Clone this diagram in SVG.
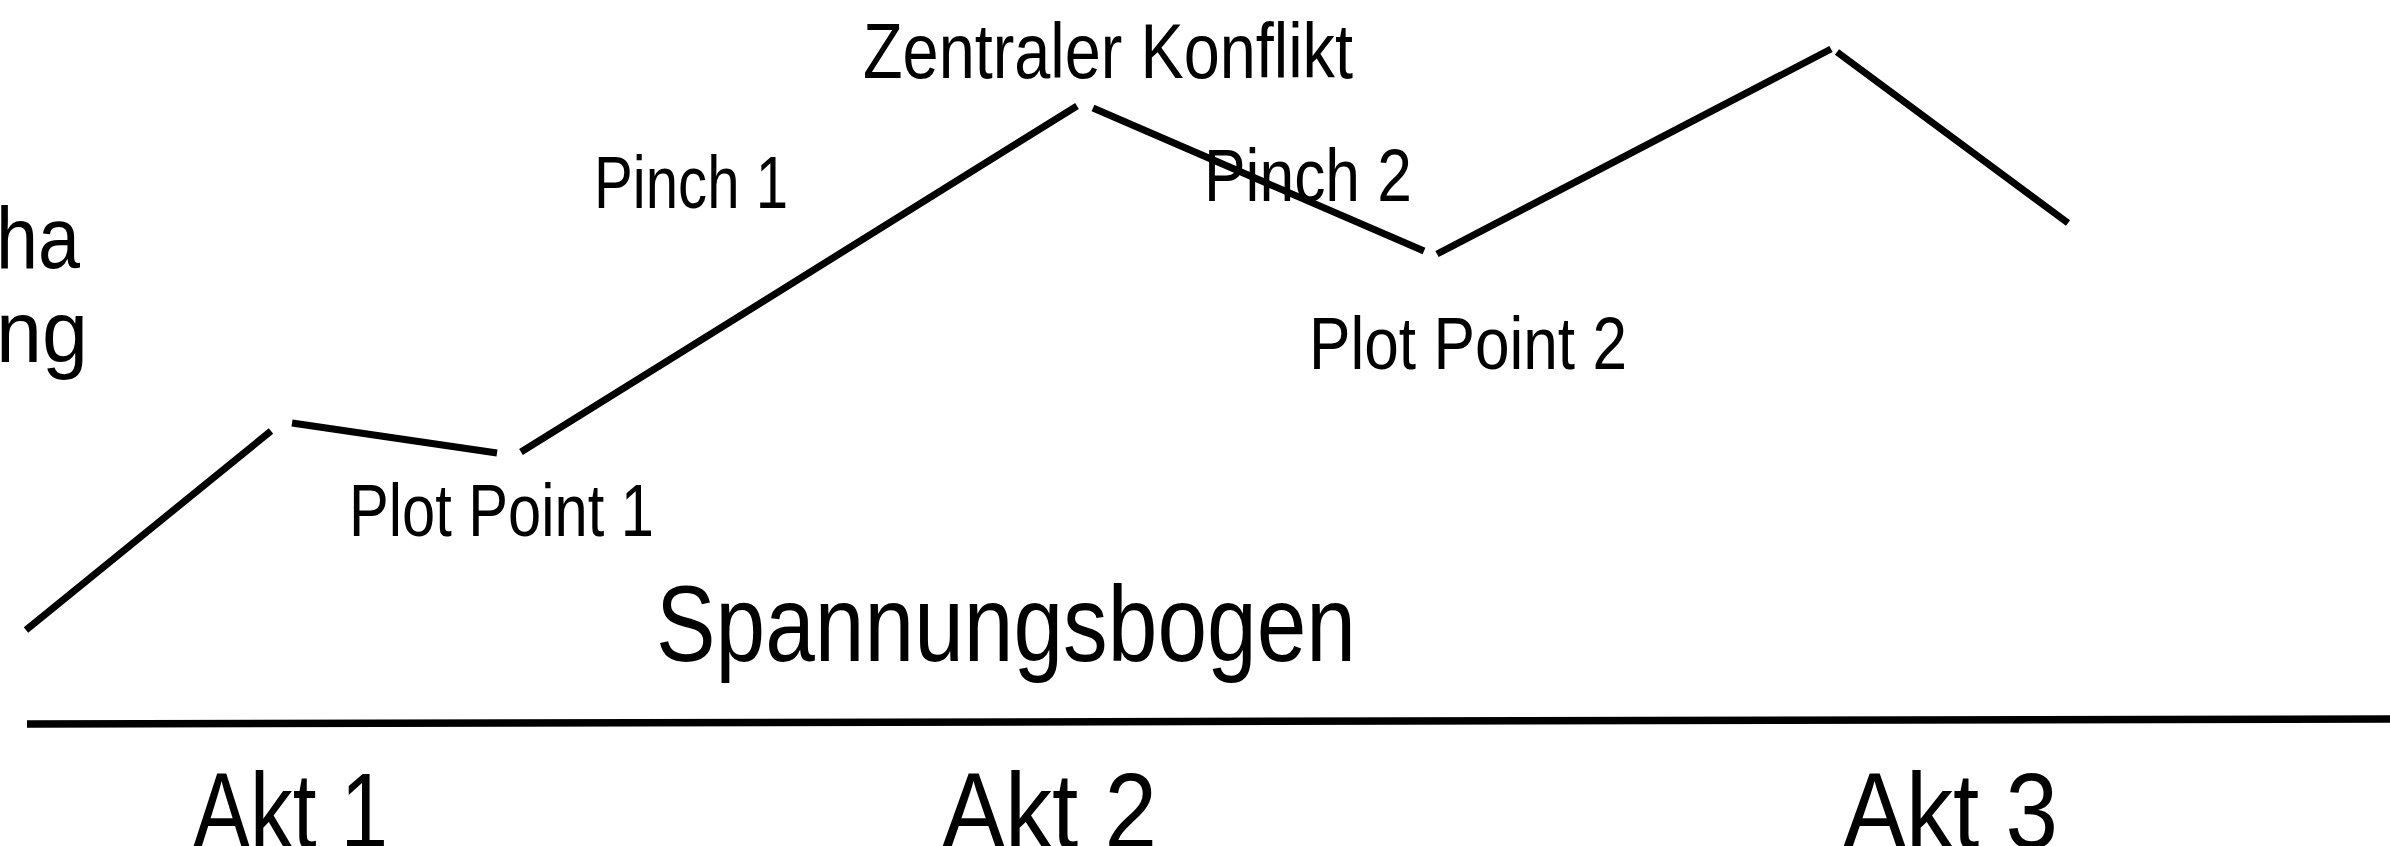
<svg xmlns="http://www.w3.org/2000/svg" width="2390" height="846" viewBox="0 0 2390 846">
  <style>
    .lbl { font-family: "Liberation Sans", Arial, sans-serif; fill: #000; }
    .sm { font-size: 75px; }
    .md { font-size: 88px; }
    .lg { font-size: 108px; }
    .seg { stroke: #000; stroke-width: 7; fill: none; stroke-linecap: butt; }
    .axis { stroke: #000; stroke-width: 7.5; fill: none; }
  </style>
  <rect width="2390" height="846" fill="#fff"/>
  <g id="connectors">
    <line class="seg" x1="26" y1="630" x2="271" y2="431"/>
    <line class="seg" x1="292" y1="423" x2="497" y2="453"/>
    <line class="seg" x1="521" y1="452" x2="1077" y2="106"/>
    <line class="seg" x1="1093" y1="108" x2="1424" y2="251"/>
    <line class="seg" x1="1437" y1="254" x2="1831" y2="49"/>
    <line class="seg" x1="1837" y1="52" x2="2068" y2="223"/>
    <line class="axis" x1="27" y1="724" x2="2390" y2="719"/>
  </g>
  <g id="label-ha">
    <text class="lbl md" x="-4" y="268" textLength="84" lengthAdjust="spacingAndGlyphs">ha</text>
  </g>
  <g id="label-ng">
    <text class="lbl md" x="-4" y="362" textLength="92" lengthAdjust="spacingAndGlyphs">ng</text>
  </g>
  <g id="zentraler-konflikt">
    <text class="lbl sm" x="863" y="78" textLength="490" lengthAdjust="spacingAndGlyphs" style="font-size:77px">Zentraler Konflikt</text>
  </g>
  <g id="pinch-1">
    <text class="lbl sm" x="594" y="208" textLength="194" lengthAdjust="spacingAndGlyphs">Pinch 1</text>
  </g>
  <g id="pinch-2">
    <text class="lbl sm" x="1204" y="201" textLength="208" lengthAdjust="spacingAndGlyphs">Pinch 2</text>
  </g>
  <g id="plot-point-1">
    <text class="lbl sm" x="349" y="536" textLength="305" lengthAdjust="spacingAndGlyphs">Plot Point 1</text>
  </g>
  <g id="plot-point-2">
    <text class="lbl sm" x="1309" y="369" textLength="318" lengthAdjust="spacingAndGlyphs">Plot Point 2</text>
  </g>
  <g id="spannungsbogen">
    <text class="lbl lg" x="656" y="661" textLength="700" lengthAdjust="spacingAndGlyphs">Spannungsbogen</text>
  </g>
  <g id="akt-1">
    <text class="lbl lg" x="193" y="848" textLength="195" lengthAdjust="spacingAndGlyphs">Akt 1</text>
  </g>
  <g id="akt-2">
    <text class="lbl lg" x="942" y="848" textLength="215" lengthAdjust="spacingAndGlyphs">Akt 2</text>
  </g>
  <g id="akt-3">
    <text class="lbl lg" x="1843" y="848" textLength="215" lengthAdjust="spacingAndGlyphs">Akt 3</text>
  </g>
</svg>
